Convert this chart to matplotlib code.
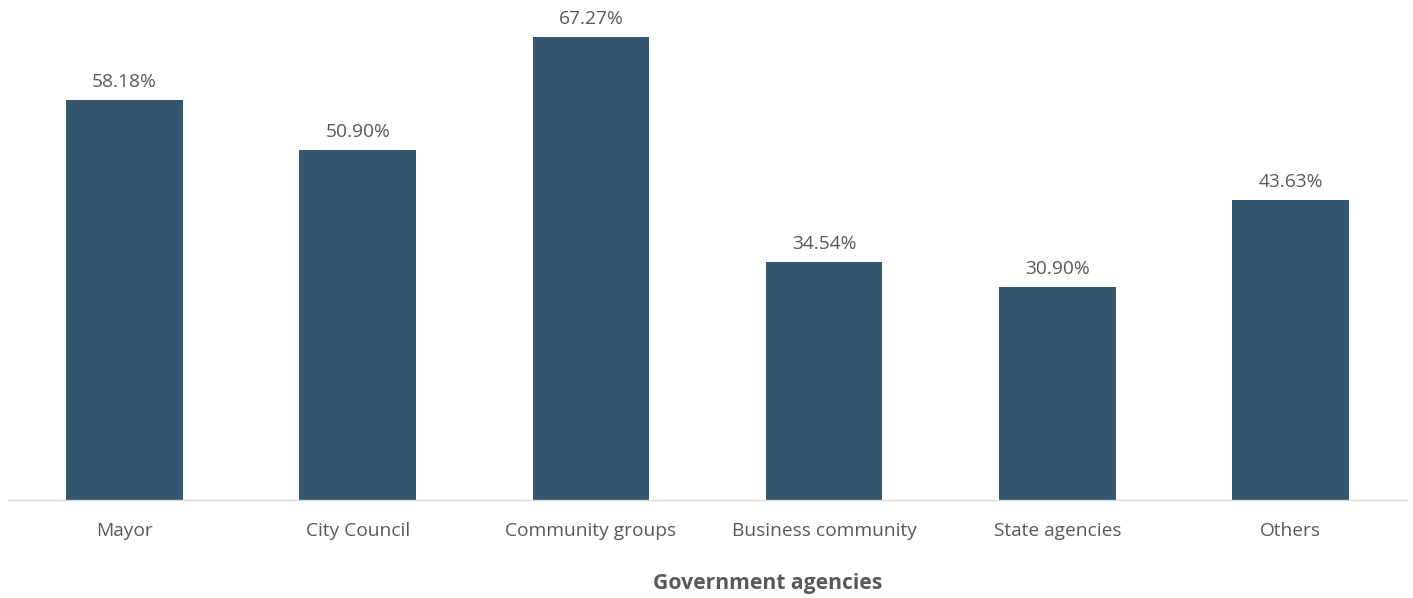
import matplotlib
matplotlib.use("Agg")
import matplotlib.pyplot as plt

# values
categories = ["Mayor", "City Council", "Community groups", "Business community", "State agencies", "Others"]
shares = [58.18, 50.90, 67.27, 34.54, 30.90, 43.63]
labels = ["58.18%", "50.90%", "67.27%", "34.54%", "30.90%", "43.63%"]

bar_color = "#34576F"
text_color = "#595959"

plt.rcParams['font.family'] = ['Open Sans', 'DejaVu Sans']

fig = plt.figure(figsize=(14.13, 5.98), dpi=100)
ax = fig.add_axes([8/1413, 98/598, 1399/1413, 500/598])

x = range(len(categories))
bars = ax.bar(x, shares, width=0.5, color=bar_color)

for b, lab in zip(bars, labels):
    ax.text(b.get_x() + b.get_width()/2, b.get_height() + 1.3, lab,
            ha='center', va='bottom', fontsize=13.8, color=text_color)

ax.set_xlim(-0.5, len(categories) - 0.5)
ax.set_ylim(0, 500/6.88)
ax.set_xticks(list(x))
ax.set_xticklabels(categories, fontsize=13.8, color=text_color)
ax.tick_params(axis='x', length=0, pad=16)
ax.set_yticks([])
ax.set_xlabel("Government agencies", fontsize=15.2, fontweight='bold', color=text_color, va='center')
ax.xaxis.set_label_coords((767.5 - 8)/1399, -83/500)

for s in ['top', 'right', 'left']:
    ax.spines[s].set_visible(False)
ax.spines['bottom'].set_color('#D9D9D9')
ax.spines['bottom'].set_linewidth(1)

fig.savefig("out.png", dpi=100)
